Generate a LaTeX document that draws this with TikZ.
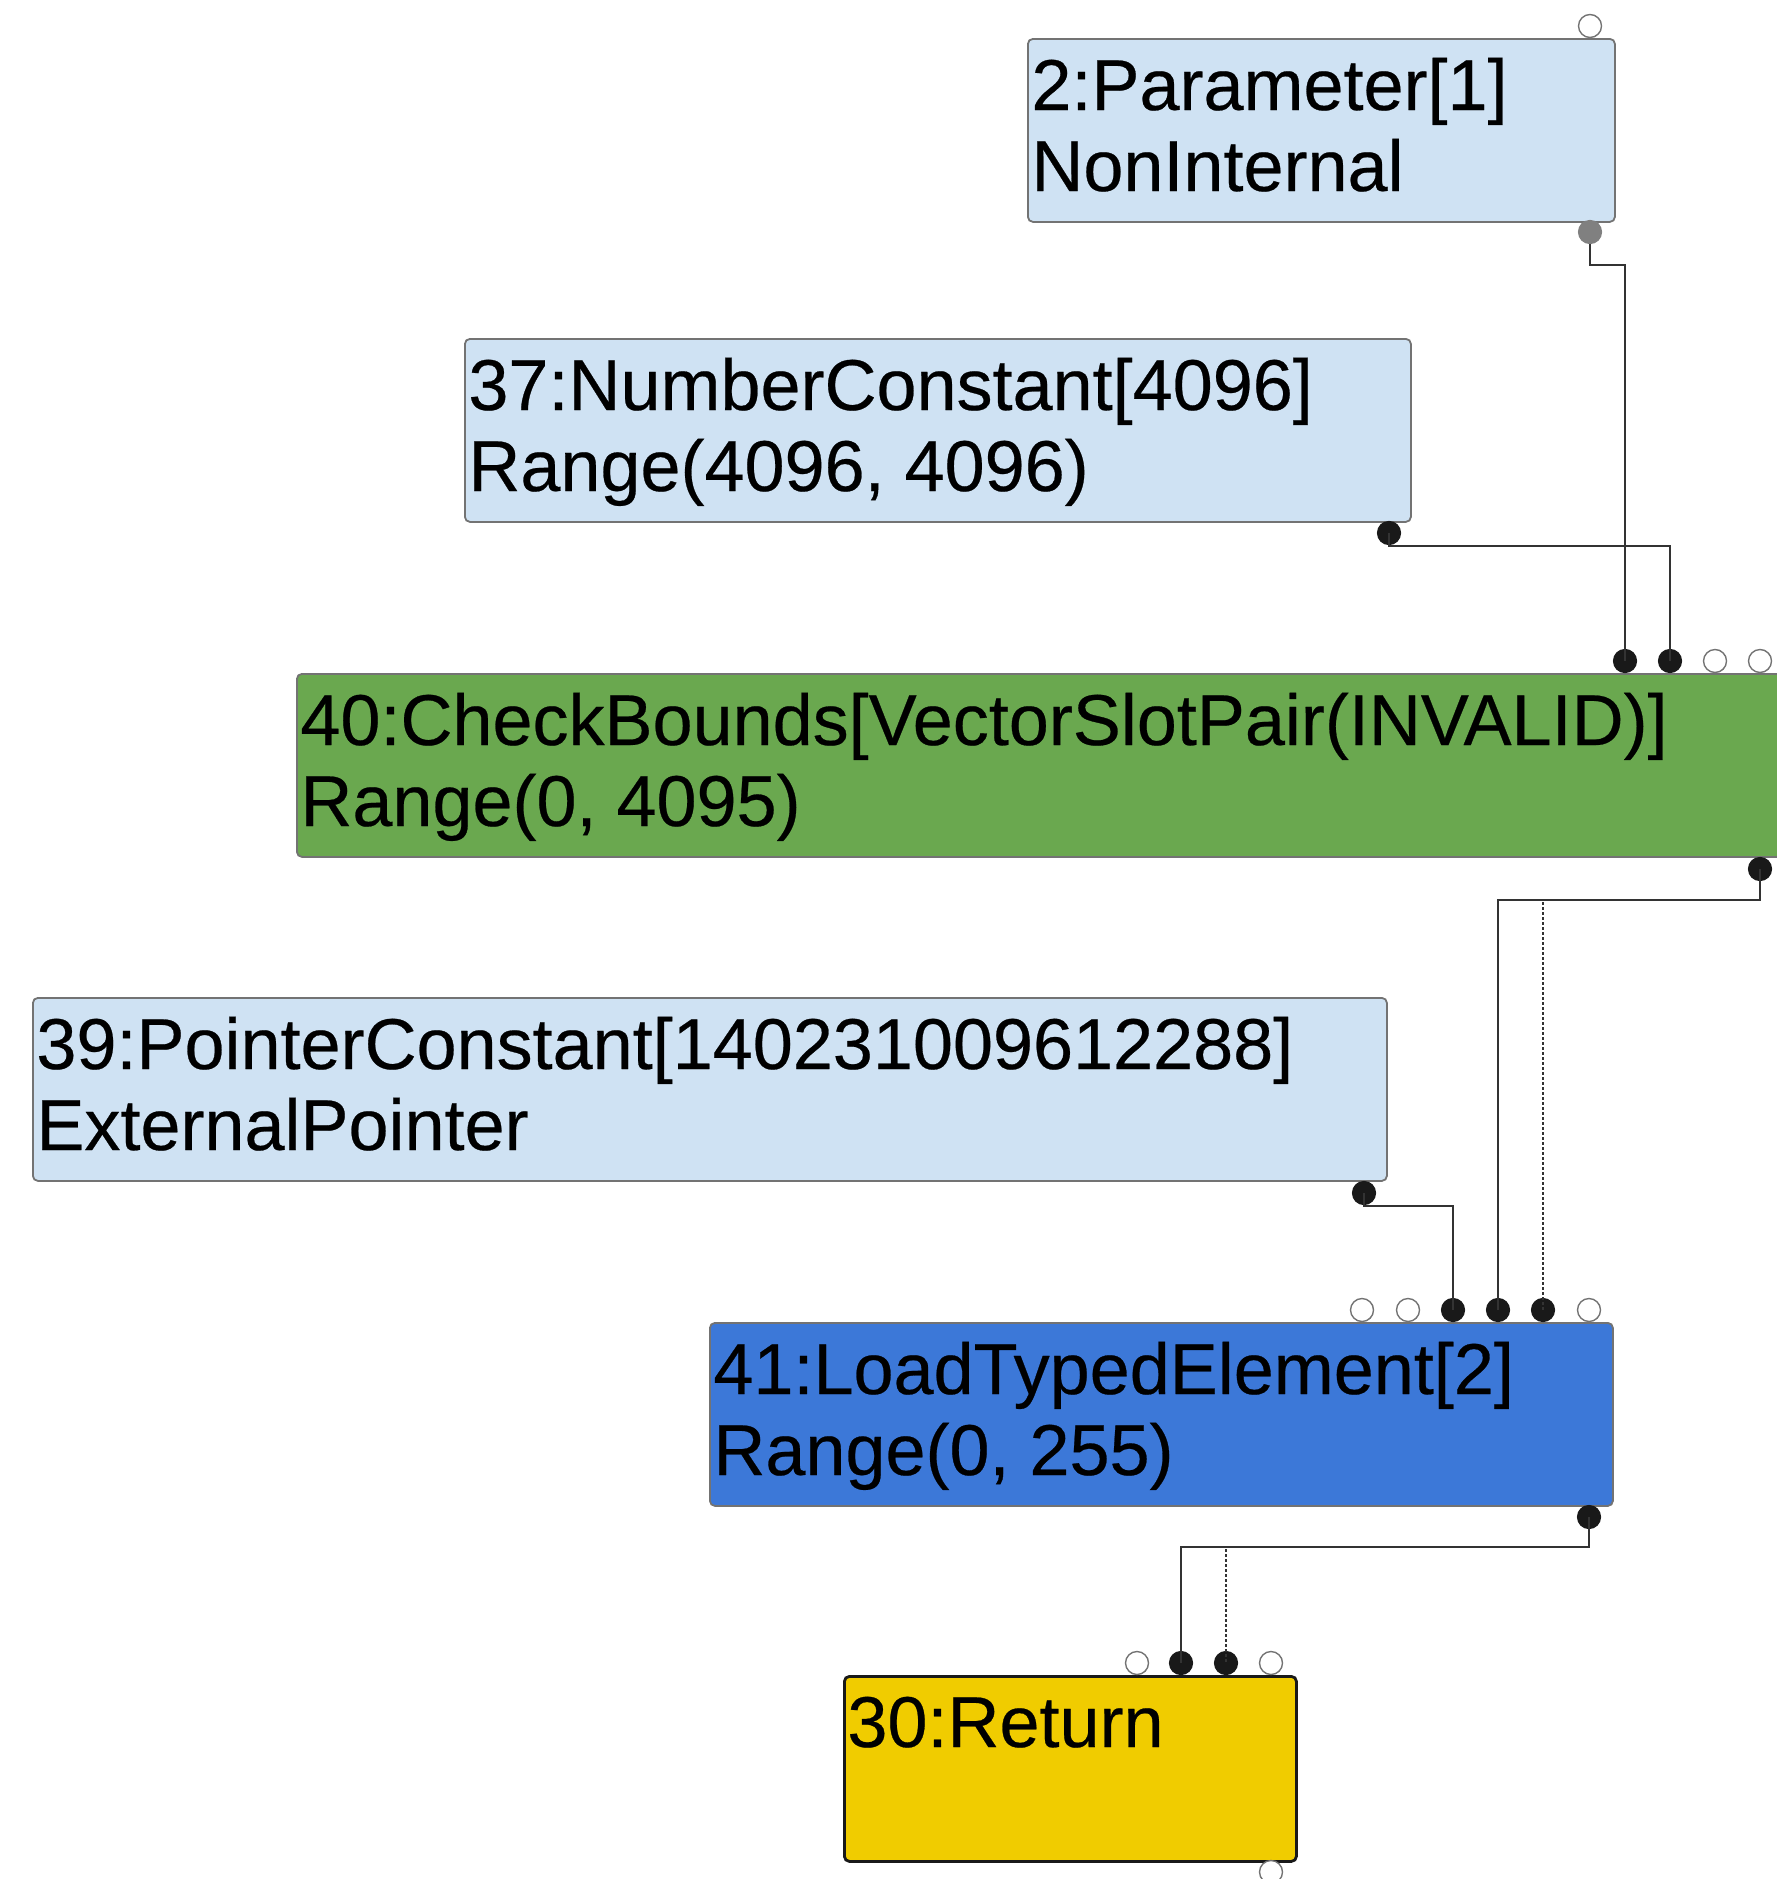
\documentclass[tikz,border=0pt]{standalone}
\usepackage{fontspec}
\setmainfont{Liberation Sans}
\newfontfamily\lblfont[FakeBold=0.35]{Liberation Sans}
\definecolor{lightnode}{RGB}{207,226,243}
\definecolor{greennode}{RGB}{106,168,79}
\definecolor{bluenode}{RGB}{60,120,216}
\definecolor{yellownode}{RGB}{240,204,0}
\definecolor{boxline}{RGB}{115,115,115}
\begin{document}
\begin{tikzpicture}[x=0.5pt,y=-0.5pt,
  box/.style={draw=boxline, line width=0.9pt, rounded corners=2.5pt, anchor=north west, inner sep=0pt, minimum height=91.5pt},
  retbox/.style={box, draw=black!90, line width=1.4pt},
  txt/.style={anchor=base west, inner sep=0pt, font=\lblfont\fontsize{36}{40}\selectfont},
  openport/.style={circle, draw=boxline, fill=white, line width=0.7pt, minimum size=11.5pt, inner sep=0pt},
  fullport/.style={circle, draw=black!90, fill=black!90, line width=0.6pt, minimum size=11.5pt, inner sep=0pt},
  grayport/.style={circle, draw=gray, fill=gray, line width=0.6pt, minimum size=11.5pt, inner sep=0pt},
  edge/.style={draw=black!80, line width=1.35pt},
  effedge/.style={draw=black!80, line width=1.2pt, dash pattern=on 1.4pt off 1.1pt}
]
\useasboundingbox (0,0) rectangle (1777,1879);

% boxes
\node[box, fill=lightnode, minimum width=293.5pt] (n2) at (1027,38) {};
\node[box, fill=lightnode, minimum width=473pt] (n37) at (464,338) {};
\node[box, fill=greennode, minimum width=760pt] (n40) at (296,673) {};
\node[box, fill=lightnode, minimum width=677pt] (n39) at (32,997) {};
\node[box, fill=bluenode, minimum width=451.5pt] (n41) at (709,1322) {};
\node[retbox, fill=yellownode, minimum width=226pt, minimum height=92.5pt] (n30) at (843,1675) {};

% texts
\node[txt] (t2a) at (1031,110) {2:Parameter[1]};
\node[txt] (t2b) at (1031,191) {NonInternal};
\node[txt] (t37a) at (468,410) {37:NumberConstant[4096]};
\node[txt] (t37b) at (468,491) {Range(4096, 4096)};
\node[txt] (t40a) at (300,745) {40:CheckBounds[VectorSlotPair(INVALID)]};
\node[txt] (t40b) at (300,826) {Range(0, 4095)};
\node[txt] (t39a) at (36,1069) {39:PointerConstant[140231009612288]};
\node[txt] (t39b) at (36,1150) {ExternalPointer};
\node[txt] (t41a) at (713,1394) {41:LoadTypedElement[2]};
\node[txt] (t41b) at (713,1475) {Range(0, 255)};
\node[txt] (t30a) at (847,1747) {30:Return};

% ports
\node[openport] (p2i) at (1590,26) {};
\node[grayport] (p2o) at (1590,232) {};
\node[fullport] (p37o) at (1389,533) {};
\node[fullport] (p40i1) at (1625,661) {};
\node[fullport] (p40i2) at (1670,661) {};
\node[openport] (p40i3) at (1715,661) {};
\node[openport] (p40i4) at (1760,661) {};
\node[fullport] (p40o) at (1760,869) {};
\node[fullport] (p39o) at (1364,1193) {};
\node[openport] (p41i1) at (1362,1310) {};
\node[openport] (p41i2) at (1408,1310) {};
\node[fullport] (p41i3) at (1453,1310) {};
\node[fullport] (p41i4) at (1498,1310) {};
\node[fullport] (p41i5) at (1543,1310) {};
\node[openport] (p41i6) at (1589,1310) {};
\node[fullport] (p41o) at (1589,1517) {};
\node[openport] (p30i1) at (1137,1663) {};
\node[fullport] (p30i2) at (1181,1663) {};
\node[fullport] (p30i3) at (1226,1663) {};
\node[openport] (p30i4) at (1271,1663) {};
\node[openport] (p30o) at (1271,1872) {};

% routing levels
\coordinate (r1) at (0,265);
\coordinate (r2) at (0,546);
\coordinate (r3) at (0,900);
\coordinate (r4) at (0,1206);
\coordinate (r5) at (0,1547);

% connectors
\draw[edge] (p2o.south) -- (p2o |- r1) -- (p40i1 |- r1) -- (p40i1.center);
\draw[edge] (p37o.center) -- (p37o |- r2) -- (p40i2 |- r2) -- (p40i2.center);
\draw[edge] (p40o.center) -- (p40o |- r3) -- (p41i4 |- r3) -- (p41i4.center);
\draw[effedge] (p40o.center) -- (p40o |- r3) -- (p41i5 |- r3) -- (p41i5.center);
\draw[edge] (p39o.center) -- (p39o |- r4) -- (p41i3 |- r4) -- (p41i3.center);
\draw[edge] (p41o.center) -- (p41o |- r5) -- (p30i2 |- r5) -- (p30i2.center);
\draw[effedge] (p41o.center) -- (p41o |- r5) -- (p30i3 |- r5) -- (p30i3.center);
\end{tikzpicture}
\end{document}
